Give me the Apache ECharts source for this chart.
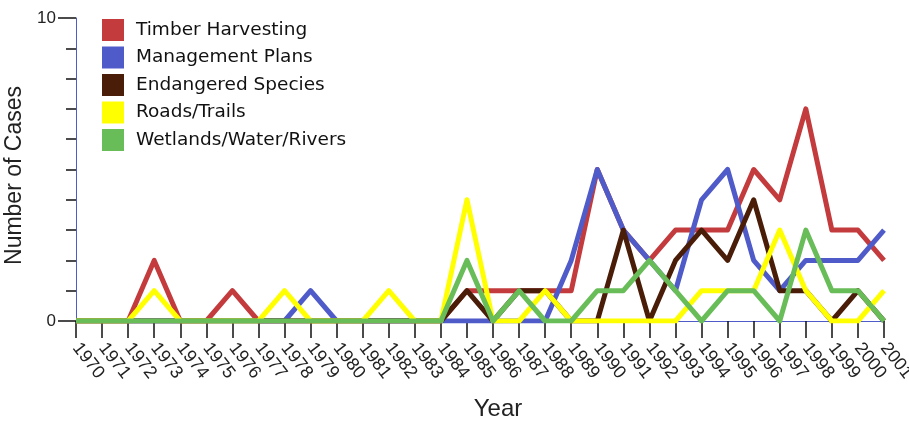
<!DOCTYPE html>
<html>
<head>
<meta charset="utf-8">
<script src="https://cdn.jsdelivr.net/npm/echarts@6/dist/echarts.min.js"></script>
<style>
html,body{margin:0;padding:0;background:#fff;}
#main{width:909px;height:421px;}
</style>
</head>
<body>
<div id="main"></div>
<script>
const years = ['1970','1971','1972','1973','1974','1975','1976','1977','1978','1979','1980','1981','1982','1983','1984','1985','1986','1987','1988','1989','1990','1991','1992','1993','1994','1995','1996','1997','1998','1999','2000','2001'];
const timber     = [0,0,0,2,0,0,1,0,0,0,0,0,0,0,0,1,1,1,1,1,5,3,2,3,3,3,5,4,7,3,3,2];
const management = [0,0,0,0,0,0,0,0,0,1,0,0,0,0,0,0,0,0,0,2,5,3,2,1,4,5,2,1,2,2,2,3];
const endangered = [0,0,0,0,0,0,0,0,0,0,0,0,0,0,0,1,0,1,1,0,0,3,0,2,3,2,4,1,1,0,1,0];
const roads      = [0,0,0,1,0,0,0,0,1,0,0,0,1,0,0,4,0,0,1,0,0,0,0,0,1,1,1,3,1,0,0,1];
const wetlands   = [0,0,0,0,0,0,0,0,0,0,0,0,0,0,0,2,0,1,0,0,1,1,2,1,0,1,1,0,3,1,1,0];
const seriesNames = ['Timber Harvesting','Management Plans','Endangered Species','Roads/Trails','Wetlands/Water/Rivers'];
const seriesColors = ['#c43b3d','#4f5bc8','#4a1d08','#ffff00','#69bd58'];
const seriesData = [timber, management, endangered, roads, wetlands];

const chart = echarts.init(document.getElementById('main'), null, {renderer:'canvas'});
chart.setOption({
  animation: false,
  backgroundColor: '#fff',
  color: seriesColors,
  grid: {left: 76, right: 25, top: 18, bottom: 100, containLabel: false, outerBoundsMode: 'none'},
  legend: {
    orient: 'vertical', left: 97, top: 14,
    itemWidth: 22, itemHeight: 22, itemGap: 5.5,
    icon: 'rect',
    textStyle: {fontFamily: 'DejaVu Sans', fontSize: 18.5, color: '#111', padding: [0,0,0,7]},
    data: seriesNames
  },
  xAxis: {
    type: 'category', data: years, boundaryGap: false,
    name: 'Year', nameLocation: 'middle', nameGap: 76,
    nameTextStyle: {fontFamily: 'Liberation Sans', fontSize: 24, color: '#222', padding: [0,0,0,36]},
    axisLine: {lineStyle: {color: '#4f5bc8', width: 1}},
    axisTick: {show: true, length: 17, alignWithLabel: true, lineStyle: {color: '#111', width: 1.5}},
    axisLabel: {interval: 0, rotate: -52, margin: 24, fontFamily: 'Liberation Sans', fontSize: 18, color: '#222'}
  },
  yAxis: {
    type: 'value', min: 0, max: 10, interval: 10,
    name: 'Number of Cases', nameLocation: 'middle', nameGap: 40,
    nameTextStyle: {fontFamily: 'Liberation Sans', fontSize: 23, color: '#222', padding: [0,12,0,0]},
    axisLine: {show: true, lineStyle: {color: '#4f5bc8', width: 1}},
    axisTick: {show: true, length: 18, lineStyle: {color: '#111', width: 1.5}},
    minorTick: {show: true, splitNumber: 10, length: 10, lineStyle: {color: '#111', width: 1.5}},
    splitLine: {show: false},
    minorSplitLine: {show: false},
    axisLabel: {margin: 20, fontFamily: 'Liberation Sans', fontSize: 17, color: '#222'}
  },
  series: seriesNames.map((n, i) => ({
    name: n, type: 'line', data: seriesData[i],
    showSymbol: false, symbol: 'none',
    lineStyle: {width: 5, color: seriesColors[i], join: 'round'},
    itemStyle: {color: seriesColors[i]}
  }))
});
</script>
</body>
</html>
